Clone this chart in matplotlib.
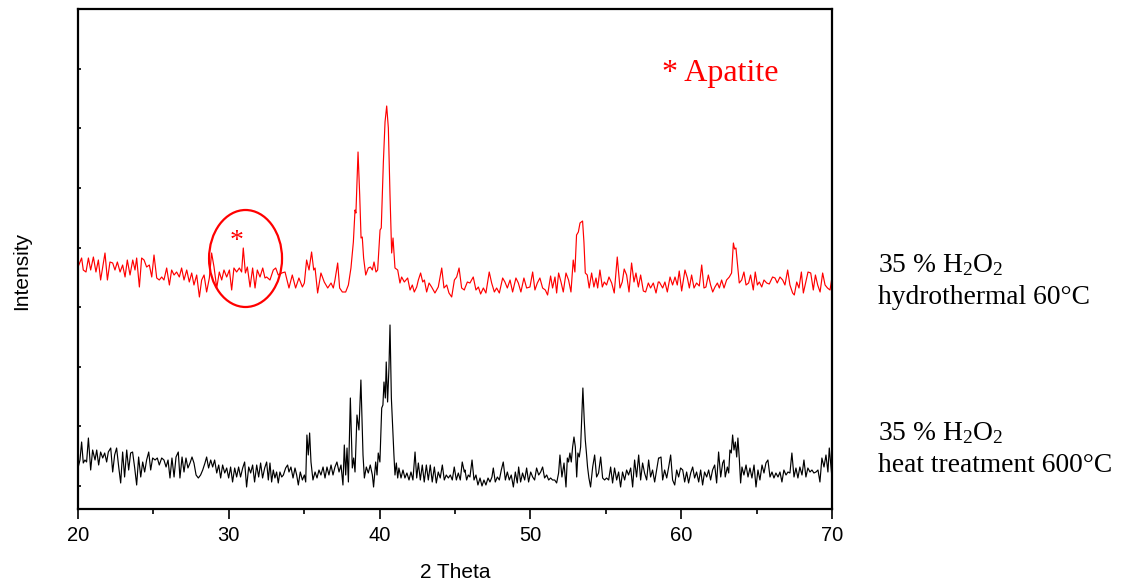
import matplotlib
matplotlib.use("Agg")
import matplotlib.pyplot as plt
from matplotlib.patches import Ellipse

plt.rcParams['font.family'] = ['Liberation Sans', 'DejaVu Sans']
plt.rcParams['mathtext.default'] = 'regular'

# ---------------- data (2 theta in degrees, intensity in arbitrary units) ----------------
theta_red = [
    20.00, 20.24, 20.35, 20.53, 20.69, 20.84, 21.02, 21.19, 21.35, 21.50, 21.64, 21.79, 21.95, 22.12, 22.30, 22.45,
    22.61, 22.79, 22.96, 23.12, 23.27, 23.45, 23.63, 23.78, 23.89, 24.07, 24.22, 24.38, 24.55, 24.73, 24.89, 25.04,
    25.22, 25.39, 25.55, 25.70, 25.88, 26.06, 26.21, 26.37, 26.54, 26.72, 26.87, 27.03, 27.21, 27.38, 27.54, 27.69,
    27.87, 28.05, 28.20, 28.36, 28.53, 28.71, 28.86, 29.02, 29.20, 29.37, 29.53, 29.68, 29.86, 30.04, 30.19, 30.34,
    30.52, 30.70, 30.85, 30.96, 31.10, 31.23, 31.41, 31.58, 31.74, 31.89, 32.07, 32.25, 32.40,
    32.51, 32.73, 32.95, 33.11, 33.28, 33.51, 33.73, 33.99, 34.21, 34.43, 34.65, 34.88, 35.01, 35.16, 35.32, 35.49,
    35.63, 35.72, 35.89, 36.11, 36.33, 36.56, 36.78, 36.93, 37.04, 37.22, 37.35, 37.53, 37.75, 37.93, 38.10, 38.26,
    38.37, 38.43, 38.57, 38.68, 38.77, 38.85, 38.94, 39.08, 39.25, 39.39, 39.52, 39.63, 39.76, 39.87, 40.03, 40.11,
    40.25, 40.36, 40.47, 40.58, 40.69, 40.80, 40.89, 41.02, 41.20, 41.35, 41.46, 41.64, 41.86, 42.02, 42.17, 42.30,
    42.46, 42.57, 42.72, 42.86, 42.97, 43.12, 43.28, 43.45, 43.67, 43.89, 44.12, 44.27, 44.45, 44.60, 44.78, 44.96,
    45.11, 45.27, 45.44, 45.62,
    45.66, 45.82, 45.99, 46.21, 46.39, 46.55, 46.70, 46.88, 47.05, 47.27, 47.43, 47.61, 47.76, 47.94, 48.16, 48.31,
    48.47, 48.65, 48.82, 49.04, 49.20, 49.37, 49.57, 49.75, 49.97, 50.15, 50.30, 50.46, 50.63, 50.81, 50.99, 51.14,
    51.34, 51.47, 51.63, 51.74, 51.87, 52.03, 52.18, 52.36, 52.53, 52.69, 52.84, 52.95, 53.06, 53.18, 53.29, 53.46,
    53.55, 53.64, 53.77, 53.90, 54.06, 54.21, 54.35, 54.46, 54.61, 54.77, 54.90, 55.05, 55.21, 55.39, 55.56, 55.76,
    55.94, 56.09, 56.22, 56.38, 56.54, 56.71, 56.87, 57.00, 57.16, 57.31, 57.49, 57.64, 57.82, 57.97, 58.15, 58.33,
    58.48,
    58.55, 58.77, 58.92, 59.08, 59.26, 59.43, 59.59, 59.74, 59.87, 60.03, 60.25, 60.41, 60.54, 60.69, 60.85, 61.02,
    61.20, 61.36, 61.51, 61.64, 61.80, 61.95, 62.09, 62.24, 62.40, 62.53, 62.68, 62.84, 63.01, 63.19, 63.34, 63.46,
    63.54, 63.63, 63.72, 63.85, 64.01, 64.16, 64.30, 64.47, 64.60, 64.78, 64.91, 65.05, 65.18, 65.34, 65.49, 65.67,
    65.84, 66.06, 66.22, 66.37, 66.55, 66.73, 66.88, 67.06, 67.21, 67.39, 67.50, 67.66, 67.81, 67.97, 68.10, 68.26,
    68.41, 68.59, 68.76, 68.90, 69.05, 69.21, 69.38, 69.54, 69.70, 69.87, 70.00,
]
int_red = [
    223, 232, 220, 218, 232, 220, 233, 218, 230, 210, 223, 237, 210, 228, 227, 220,
    228, 218, 225, 213, 230, 215, 230, 220, 232, 203, 232, 230, 223, 225, 213, 235,
    212, 210, 213, 210, 222, 205, 220, 215, 218, 213, 222, 210, 220, 208, 217, 205,
    215, 193, 210, 215, 198, 212, 237, 223, 202, 218, 210, 220, 213, 220, 200, 222,
    218, 222, 218, 242, 217, 223, 203, 222, 202, 220, 213, 222, 212,
    213, 210, 220, 222, 215, 217, 218, 202, 215, 202, 212, 203, 207, 230, 220, 238,
    220, 222, 197, 217, 208, 202, 207, 202, 210, 227, 202, 198, 198, 205, 222, 248,
    280, 277, 338, 295, 252, 253, 232, 215, 222, 223, 220, 228, 218, 220, 260, 262,
    328, 368, 384, 362, 295, 237, 252, 222, 220, 207, 213, 208, 212, 200, 205, 198,
    203, 210, 217, 208, 210, 198, 207, 203, 197, 203, 222, 202, 205, 197, 193, 210,
    213, 222, 202, 200,
    202, 208, 207, 213, 200, 203, 196, 202, 197, 218, 207, 198, 202, 197, 212, 208,
    202, 210, 198, 212, 207, 198, 212, 202, 203, 218, 200, 207, 212, 202, 200, 195,
    214, 202, 213, 197, 217, 208, 198, 217, 210, 198, 230, 218, 255, 258, 267, 269,
    248, 217, 215, 202, 217, 203, 212, 202, 220, 203, 208, 205, 213, 207, 197, 233,
    202, 208, 221, 215, 198, 227, 208, 217, 203, 215, 199, 198, 207, 202, 207, 197,
    208,
    208, 202, 208, 198, 213, 205, 213, 205, 219, 199, 220, 212, 202, 215, 202, 207,
    204, 225, 202, 203, 215, 205, 198, 203, 207, 202, 210, 202, 210, 213, 217, 247,
    241, 242, 228, 207, 210, 218, 205, 207, 215, 200, 218, 205, 208, 203, 210, 207,
    206, 213, 212, 207, 213, 210, 205, 220, 205, 197, 195, 208, 202, 218, 197, 208,
    218, 217, 200, 215, 205, 198, 217, 205, 202, 200, 213,
]

theta_black = [
    20.00, 20.13, 20.24, 20.35, 20.46, 20.57, 20.69, 20.84, 20.97, 21.13, 21.24, 21.37, 21.50, 21.64, 21.77, 21.90,
    22.01, 22.17, 22.30, 22.43, 22.56, 22.70, 22.83, 22.96, 23.09, 23.23, 23.36, 23.49, 23.62, 23.76, 23.89, 24.02,
    24.16, 24.29, 24.42, 24.55, 24.69, 24.82, 24.95, 25.11, 25.26, 25.39, 25.55, 25.70, 25.84, 25.97, 26.10, 26.23,
    26.37, 26.50, 26.65, 26.76, 26.90, 27.03, 27.16, 27.29, 27.43, 27.56, 27.69, 27.83, 27.98, 28.13, 28.27, 28.42,
    28.53, 28.66, 28.80, 28.93, 29.06, 29.20, 29.33, 29.46, 29.59, 29.73, 29.86, 29.99, 30.12, 30.25, 30.39, 30.52,
    30.65, 30.78, 30.92, 31.05, 31.18, 31.32, 31.45, 31.58, 31.71, 31.85, 31.98, 32.11, 32.24, 32.38,
    32.51, 32.62, 32.73, 32.84, 32.95, 33.06, 33.17, 33.28, 33.39, 33.51, 33.62, 33.77, 33.90, 33.99, 34.12, 34.26,
    34.39, 34.50, 34.61, 34.74, 34.88, 35.01, 35.10, 35.18, 35.27, 35.36, 35.45, 35.58, 35.72, 35.85, 35.98, 36.11,
    36.25, 36.38, 36.51, 36.64, 36.78, 36.91, 37.04, 37.17, 37.31, 37.44, 37.57, 37.66, 37.75, 37.84, 37.93, 38.06,
    38.19, 38.28, 38.37, 38.50, 38.63, 38.76, 38.90, 38.99, 39.12, 39.25, 39.38, 39.52, 39.60, 39.74, 39.83, 39.91,
    40.02, 40.14, 40.22, 40.29, 40.38, 40.44, 40.53, 40.62, 40.69, 40.78, 40.86, 40.95, 41.02, 41.11, 41.20, 41.28,
    41.42, 41.55, 41.68, 41.81, 41.95, 42.08, 42.21, 42.35, 42.46, 42.57, 42.70, 42.83, 42.96, 43.10, 43.23, 43.36,
    43.49, 43.63, 43.76, 43.89, 44.02, 44.16, 44.29, 44.42, 44.56, 44.69, 44.82, 44.95, 45.09, 45.22, 45.35, 45.48,
    45.62,
    45.66, 45.77, 45.88, 45.99, 46.13, 46.26, 46.39, 46.52, 46.66, 46.79, 46.92, 47.05, 47.19, 47.32, 47.45, 47.54,
    47.67, 47.81, 47.94, 48.07, 48.20, 48.34, 48.47, 48.60, 48.73, 48.87, 49.00, 49.13, 49.22, 49.35, 49.48, 49.62,
    49.75, 49.88, 50.02, 50.15, 50.28, 50.41, 50.55, 50.68, 50.81, 50.94, 51.08, 51.21, 51.34, 51.47, 51.61, 51.74,
    51.87, 51.96, 52.09, 52.23, 52.36, 52.45, 52.53, 52.62, 52.71, 52.80, 52.89, 52.98, 53.07, 53.15, 53.24, 53.33,
    53.40, 53.48, 53.57, 53.64, 53.71, 53.79, 53.88, 53.99, 54.13, 54.26, 54.39, 54.52, 54.66, 54.79, 54.92, 55.05,
    55.19, 55.32, 55.45, 55.58, 55.72, 55.85, 55.98, 56.11, 56.25, 56.38, 56.51, 56.65, 56.78, 56.91, 57.04, 57.18,
    57.31, 57.44, 57.57, 57.71, 57.84, 57.97, 58.10, 58.24, 58.37, 58.50,
    58.55, 58.66, 58.77, 58.90, 59.04, 59.17, 59.30, 59.43, 59.57, 59.70, 59.83, 59.96, 60.10, 60.23, 60.36, 60.49,
    60.63, 60.76, 60.89, 61.02, 61.16, 61.29, 61.42, 61.55, 61.69, 61.82, 61.95, 62.08, 62.22, 62.35, 62.48, 62.62,
    62.75, 62.84, 62.92, 63.06, 63.15, 63.23, 63.32, 63.41, 63.50, 63.59, 63.68, 63.76, 63.85, 63.94, 64.03, 64.16,
    64.30, 64.43, 64.56, 64.69, 64.83, 64.96, 65.09, 65.22, 65.36, 65.49, 65.62, 65.75, 65.89, 66.02, 66.15, 66.28,
    66.42, 66.55, 66.68, 66.81, 66.95, 67.08, 67.21, 67.34, 67.48, 67.61, 67.74, 67.87, 68.01, 68.14, 68.27, 68.40,
    68.54, 68.67, 68.80, 68.94, 69.07, 69.20, 69.33, 69.47, 69.60, 69.73, 69.82, 69.91, 70.00,
]
int_black = [
    22, 30, 48, 27, 30, 28, 52, 20, 40, 30, 40, 25, 38, 32, 37, 28,
    38, 42, 18, 35, 42, 23, 7, 38, 13, 40, 20, 37, 38, 22, 5, 33,
    13, 28, 18, 30, 38, 20, 32, 30, 32, 25, 32, 30, 23, 30, 12, 32,
    13, 33, 38, 12, 33, 18, 32, 22, 27, 33, 27, 15, 12, 15, 20, 27,
    33, 22, 30, 23, 30, 17, 25, 12, 25, 17, 22, 12, 23, 8, 22, 13,
    23, 13, 22, 28, 3, 23, 17, 25, 8, 25, 13, 27, 12, 22,
    28, 10, 27, 8, 20, 12, 18, 7, 18, 13, 15, 22, 25, 18, 23, 12,
    22, 15, 5, 18, 10, 15, 8, 55, 35, 57, 28, 10, 18, 12, 20, 15,
    23, 12, 23, 15, 25, 15, 23, 28, 18, 25, 5, 45, 15, 42, 8, 92,
    22, 32, 18, 75, 60, 110, 35, 12, 23, 17, 25, 15, 3, 28, 15, 37,
    28, 82, 85, 108, 92, 128, 88, 122, 165, 92, 65, 35, 15, 27, 12, 22,
    12, 20, 12, 17, 10, 18, 10, 38, 12, 27, 10, 25, 8, 25, 10, 25,
    8, 23, 7, 18, 12, 25, 10, 15, 12, 15, 10, 23, 10, 17, 10, 28,
    18,
    20, 10, 15, 13, 30, 10, 15, 5, 12, 4, 10, 5, 12, 8, 13, 22,
    8, 13, 10, 20, 28, 10, 18, 10, 15, 3, 18, 7, 23, 8, 17, 10,
    22, 8, 18, 13, 10, 22, 15, 18, 23, 12, 15, 10, 12, 10, 10, 7,
    17, 35, 13, 27, 3, 32, 28, 37, 28, 43, 53, 43, 13, 37, 33, 43,
    70, 102, 70, 50, 38, 23, 12, 3, 23, 35, 13, 17, 33, 12, 10, 12,
    10, 23, 7, 22, 10, 18, 3, 18, 10, 20, 15, 22, 3, 30, 13, 35,
    10, 27, 17, 10, 30, 13, 20, 8, 20, 32,
    32, 33, 10, 20, 12, 23, 35, 10, 5, 20, 13, 22, 20, 8, 18, 7,
    17, 23, 12, 18, 8, 20, 5, 18, 13, 20, 10, 20, 25, 7, 38, 13,
    27, 30, 13, 23, 17, 40, 37, 55, 40, 48, 33, 52, 32, 7, 23, 15,
    25, 13, 22, 12, 25, 3, 20, 10, 25, 17, 27, 30, 13, 18, 12, 17,
    13, 18, 8, 20, 15, 18, 17, 37, 13, 22, 12, 23, 15, 30, 13, 22,
    18, 20, 17, 18, 20, 8, 32, 23, 35, 18, 42, 27, 12,
]

x_ticks = [20, 30, 40, 50, 60, 70]
x_minor = [25, 35, 45, 55, 65]

# ---------------- figure ----------------
W, H = 1131, 582
fig = plt.figure(figsize=(W / 100, H / 100), dpi=100)
ax = fig.add_axes([78 / W, 1 - 509 / H, (832 - 78) / W, (509 - 9) / H])

nr = min(len(theta_red), len(int_red))
nb = min(len(theta_black), len(int_black))
ax.plot(theta_black[:nb], int_black[:nb], color='black', lw=0.85)
ax.plot(theta_red[:nr], int_red[:nr], color='red', lw=0.85)

ax.set_xlim(20, 70)
ax.set_ylim(-19, 481)
ax.set_xticks(x_ticks)
ax.set_xticklabels([str(t) for t in x_ticks])
ax.set_xticks(x_minor, minor=True)
ax.set_yticks([4 + 59.6 * k for k in range(8)])
ax.tick_params(axis='y', direction='in', length=2.5, width=1.2, labelleft=False)
ax.tick_params(axis='x', which='major', direction='out', length=7, width=1.2,
               labelsize=14.5, pad=5)
ax.tick_params(axis='x', which='minor', direction='out', length=3.5, width=1.2)
for s in ax.spines.values():
    s.set_linewidth(1.6)

# apatite marker
ax.add_patch(Ellipse((31.11, 231.5), 4.84, 97, fill=False, ec='red', lw=1.6))
ax.text(30.52, 248, '*', color='red', fontsize=20, ha='center', va='center',
        family='Liberation Serif')

serif = 'Liberation Serif'
fig.text(662 / W, 1 - 73 / H, '* Apatite', color='red', fontsize=23, family=serif,
         ha='left', va='center')

fs_lab = 19.8
fig.text(878 / W, 1 - 272 / H, '35 % H$_2$O$_2$', fontsize=fs_lab, family=serif,
         ha='left', va='baseline')
fig.text(878 / W, 1 - 304 / H, 'hydrothermal 60°C', fontsize=fs_lab, family=serif,
         ha='left', va='baseline')
fig.text(878 / W, 1 - 440 / H, '35 % H$_2$O$_2$', fontsize=fs_lab, family=serif,
         ha='left', va='baseline')
fig.text(878 / W, 1 - 472 / H, 'heat treatment 600°C', fontsize=fs_lab, family=serif,
         ha='left', va='baseline')

fig.text(455 / W, 1 - 572 / H, '2 Theta', fontsize=15, ha='center', va='center')
fig.text(22 / W, 1 - 271 / H, 'Intensity', fontsize=15, ha='center', va='center',
         rotation=90)

fig.savefig('out.png', dpi=100)
